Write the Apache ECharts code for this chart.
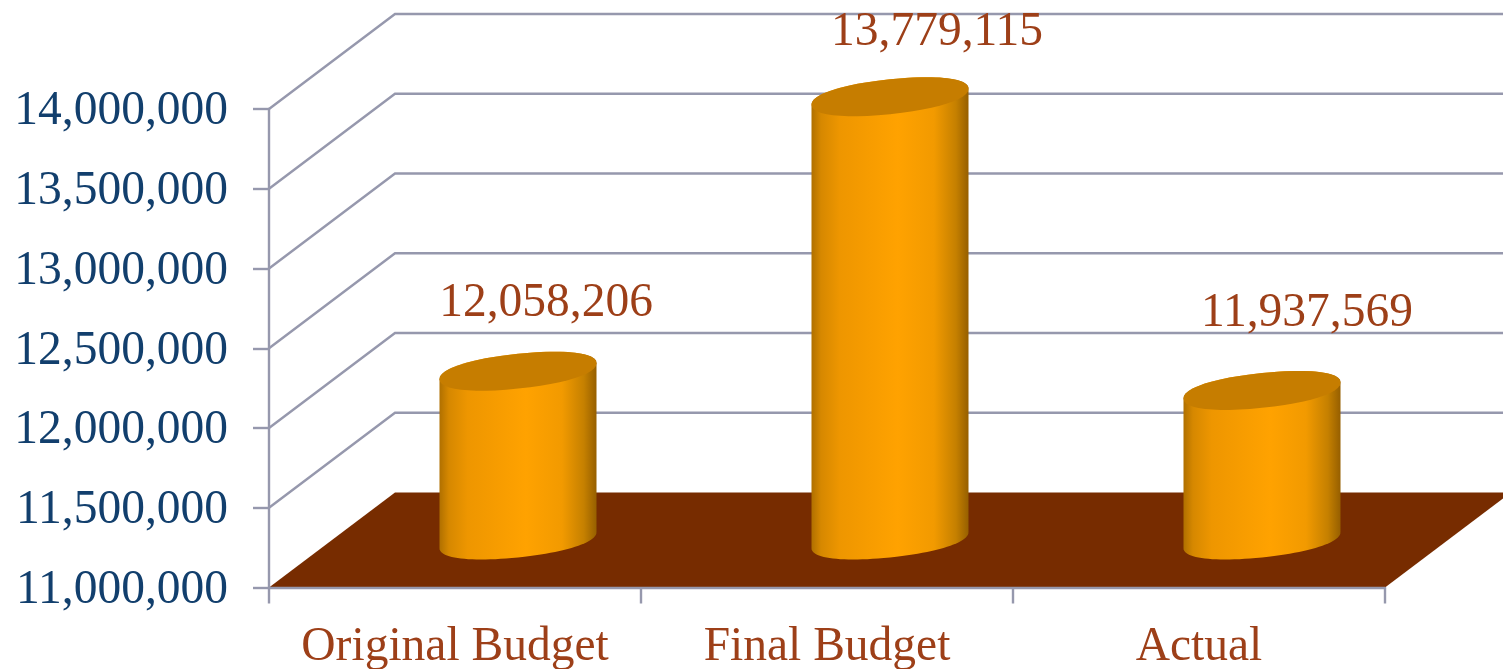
<!DOCTYPE html>
<html>
<head>
<meta charset="utf-8">
<style>html,body{margin:0;padding:0;background:#fff}#chart{width:1503px;height:669px}</style>
<script src="https://cdn.jsdelivr.net/npm/echarts@6/dist/echarts.min.js"></script>
</head>
<body>
<div id="chart"></div>
<script>
// Budget figures
const categories = ['Original Budget', 'Final Budget', 'Actual'];
const budgetValues = [12058206, 13779115, 11937569];
const wallLevels = [11500000, 12000000, 12500000, 13000000, 13500000, 14000000];
const floorLevel = 11000000;

// Oblique projection of the box: how far the back plane sits from the front plane
const DEPTH_X = 126;
const DEPTH_Y = 95;
// Cylinder proportions; ROUNDNESS below 1 gives the caps a fuller outline
const RADIUS_X = 78.5;
const RADIUS_Y = 17.4;
const TILT = 8;
const ROUNDNESS = 0.92;
// Value label offsets from the centre of each cylinder's top face
const labelShift = [[28, -70], [47, -66], [45, -79]];

const FONT = '"Liberation Serif", "Times New Roman", serif';
const GRID_COLOR = '#9698ad';
const LABEL_COLOR = '#9d3f18';

const fmt = v => v.toLocaleString('en-US');

function ellipseArc(cx, cy, from, to) {
  const pts = [];
  const steps = 48;
  for (let i = 0; i <= steps; i++) {
    const t = from + (to - from) * i / steps;
    const c = Math.sign(Math.cos(t)) * Math.pow(Math.abs(Math.cos(t)), ROUNDNESS);
    const s = Math.sign(Math.sin(t)) * Math.pow(Math.abs(Math.sin(t)), ROUNDNESS);
    pts.push([cx + RADIUS_X * c, cy + RADIUS_Y * s - TILT * c]);
  }
  return pts;
}

function renderWall(params, api) {
  const front = api.coord([0, api.value(0)]);
  const rect = params.coordSys;
  return {
    type: 'polyline',
    shape: {
      points: [
        [rect.x, front[1]],
        [rect.x + DEPTH_X, front[1] - DEPTH_Y],
        [rect.x + rect.width + DEPTH_X, front[1] - DEPTH_Y]
      ]
    },
    style: { fill: null, stroke: GRID_COLOR, lineWidth: 2.4 }
  };
}

function renderFloor(params, api) {
  const y = api.coord([0, api.value(0)])[1];
  const rect = params.coordSys;
  return {
    type: 'polygon',
    shape: {
      points: [
        [rect.x, y],
        [rect.x + DEPTH_X, y - DEPTH_Y],
        [rect.x + rect.width + DEPTH_X, y - DEPTH_Y],
        [rect.x + rect.width, y]
      ]
    },
    style: { fill: '#772c00' }
  };
}

function renderCylinder(params, api) {
  const idx = api.value(0);
  const top = api.coord([idx, api.value(1)]);
  const base = api.coord([idx, floorLevel]);
  const cx = top[0] + DEPTH_X / 2;
  const topY = top[1] - DEPTH_Y / 2;
  const baseY = base[1] - DEPTH_Y / 2;
  const shift = labelShift[idx];
  const body = ellipseArc(cx, baseY, 0, Math.PI)
    .concat(ellipseArc(cx, topY, Math.PI, 2 * Math.PI));
  return {
    type: 'group',
    children: [
      {
        type: 'polygon',
        shape: { points: body },
        style: {
          fill: new echarts.graphic.LinearGradient(0, 0, 1, 0, [
            { offset: 0, color: '#b07000' },
            { offset: 0.06, color: '#d68800' },
            { offset: 0.18, color: '#ee9600' },
            { offset: 0.55, color: '#ffa200' },
            { offset: 0.78, color: '#f29a00' },
            { offset: 0.92, color: '#c58000' },
            { offset: 1, color: '#965f00' }
          ])
        }
      },
      {
        type: 'polygon',
        shape: { points: ellipseArc(cx, topY, 0, 2 * Math.PI) },
        style: { fill: '#c67d00' }
      },
      {
        type: 'text',
        style: {
          x: cx + shift[0],
          y: topY + shift[1] + 2,
          text: fmt(api.value(1)),
          font: '47.5px ' + FONT,
          fill: LABEL_COLOR,
          align: 'center',
          verticalAlign: 'middle'
        }
      }
    ]
  };
}

const chart = echarts.init(document.getElementById('chart'), null, { renderer: 'canvas' });
chart.setOption({
  animation: false,
  backgroundColor: '#ffffff',
  grid: { left: 269, right: 118, top: 109, bottom: 81.5, containLabel: false, outerBoundsMode: 'none' },
  xAxis: {
    type: 'category',
    data: categories,
    z: 5,
    axisLine: { lineStyle: { color: GRID_COLOR, width: 2.4 } },
    axisTick: { show: true, length: 16, alignWithLabel: false, lineStyle: { color: GRID_COLOR, width: 2.4 } },
    axisLabel: { color: LABEL_COLOR, fontFamily: FONT, fontSize: 47.5, margin: 36, interval: 0 }
  },
  yAxis: {
    type: 'value',
    min: 11000000,
    max: 14000000,
    interval: 500000,
    z: 5,
    splitLine: { show: false },
    axisLine: { show: true, lineStyle: { color: GRID_COLOR, width: 2.4 } },
    axisTick: { show: true, length: 16, lineStyle: { color: GRID_COLOR, width: 2.4 } },
    axisLabel: { color: '#123f6d', fontFamily: FONT, fontSize: 47.5, margin: 41, verticalAlign: 'top', lineHeight: 6, formatter: v => fmt(v) }
  },
  series: [
    { type: 'custom', coordinateSystem: 'cartesian2d', clip: false, silent: true, z: 1,
      data: wallLevels.map(v => [v]), encode: { y: 0 }, renderItem: renderWall },
    { type: 'custom', coordinateSystem: 'cartesian2d', clip: false, silent: true, z: 2,
      data: [[floorLevel]], encode: { y: 0 }, renderItem: renderFloor },
    { type: 'custom', coordinateSystem: 'cartesian2d', clip: false, silent: true, z: 3,
      data: budgetValues.map((v, i) => [i, v]), encode: { x: 0, y: 1 }, renderItem: renderCylinder }
  ]
});
</script>
</body>
</html>
